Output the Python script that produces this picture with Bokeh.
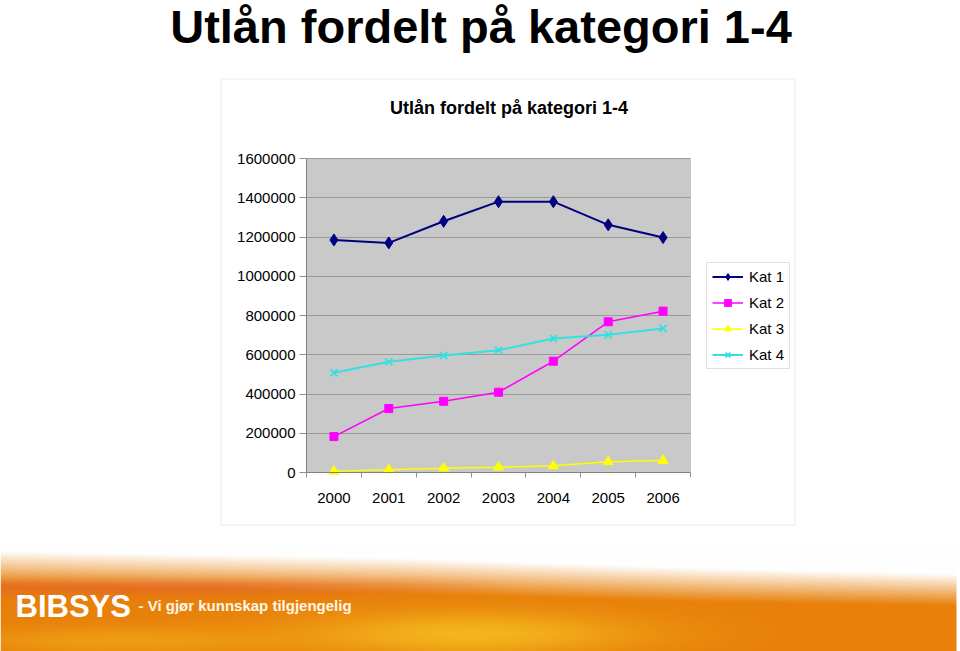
import numpy as np
from bokeh.plotting import figure
from bokeh.models import (Range1d, FixedTicker, NumeralTickFormatter, Legend, LegendItem,
                          LinearAxis, Grid, BoxAnnotation, Label)
from bokeh.core.properties import value
from bokeh.layouts import column
from bokeh.embed import file_html
from bokeh.resources import INLINE

# ---------------- data ----------------
years = ["2000", "2001", "2002", "2003", "2004", "2005", "2006"]
kat1 = [1185000, 1170000, 1280000, 1380000, 1380000, 1262000, 1197000]
kat2 = [183000, 326000, 363000, 409000, 567000, 768000, 822000]
kat3 = [6000, 14000, 22000, 27000, 34000, 55000, 61000]
kat4 = [508000, 564000, 596000, 623000, 683000, 702000, 734000]
series_names = ["Kat 1", "Kat 2", "Kat 3", "Kat 4"]
y_ticks = [0, 200000, 400000, 600000, 800000, 1000000, 1200000, 1400000, 1600000]
page_title = "Utlån fordelt på kategori 1-4"
chart_title = "Utlån fordelt på kategori 1-4"
tagline = "- Vi gjør kunnskap tilgjengelig"
logo = "BIBSYS"

FONT = "Liberation Sans"
BOX = "#BDBDBD"
xs = list(range(len(years)))

# ---------------- layout geometry (pixels) ----------------
W_MAIN, H_MAIN = 960, 545
PL, PR, PT, PB = 306, 690, 158, 472          # plot-area edges on the page
x_lo, x_hi = -0.5, len(years) - 0.5
y_lo, y_hi = y_ticks[0], y_ticks[-1]
ppx = (PR - PL) / (x_hi - x_lo)
ppy = (PB - PT) / (y_hi - y_lo)
x_range = Range1d(x_lo - PL / ppx, x_hi + (W_MAIN - PR) / ppx)
y_range = Range1d(y_lo - (H_MAIN - PB) / ppy, y_hi + PT / ppy)

p = figure(width=W_MAIN, height=H_MAIN, output_backend="svg", toolbar_location=None,
           x_range=x_range, y_range=y_range, title=None,
           x_axis_location=None, y_axis_location=None, min_border=0)
if "frame_align" in p.properties():
    p.frame_align = False
p.grid.visible = False
p.outline_line_color = None
p.background_fill_color = "white"
p.border_fill_color = "white"

# plot area
p.add_layout(BoxAnnotation(left=x_lo, right=x_hi, bottom=y_lo, top=y_hi,
                           fill_color="#C9C9C9", fill_alpha=1, line_color="#808080",
                           line_width=1, level="underlay"))
# horizontal gridlines
g = Grid(dimension=1, ticker=FixedTicker(ticks=y_ticks), grid_line_color="#9A9A9A",
         grid_line_width=1, level="underlay")
if "cross_bounds" in g.properties():
    g.cross_bounds = (x_lo, x_hi)
    g.bounds = (y_lo, y_hi)
    p.add_layout(g)
else:
    p.segment(x0=[x_lo] * len(y_ticks), x1=[x_hi] * len(y_ticks), y0=y_ticks, y1=y_ticks,
              line_color="#9A9A9A", line_width=1, level="underlay")

# outer chart box (page x 220..794, y 78..524)
p.add_layout(BoxAnnotation(left=220.5, right=794.5, top=78.5, bottom=524.5,
                           left_units="canvas", right_units="canvas",
                           top_units="canvas", bottom_units="canvas",
                           fill_alpha=0, line_color=BOX, line_width=1))

# axes fixed at the plot-area edges
ya = LinearAxis(fixed_location=x_lo, bounds=(y_lo, y_hi))
ya.ticker = FixedTicker(ticks=y_ticks)
ya.formatter = NumeralTickFormatter(format="0")
ya.axis_line_color = "#808080"
ya.major_tick_in = 0
ya.major_tick_out = 7
ya.major_tick_line_color = "#909090"
ya.minor_tick_line_color = None
ya.major_label_standoff = 4
ya.major_label_text_font = FONT
ya.major_label_text_font_size = "15px"
ya.major_label_text_color = "black"
p.add_layout(ya, "left")

xa = LinearAxis(fixed_location=y_lo, bounds=(x_lo, x_hi))
xa.ticker = FixedTicker(ticks=xs, minor_ticks=[i - 0.5 for i in range(len(years) + 1)])
xa.major_label_overrides = {i: y for i, y in enumerate(years)}
xa.axis_line_color = "#808080"
xa.major_tick_in = 0
xa.major_tick_out = 0
xa.minor_tick_in = 0
xa.minor_tick_out = 5
xa.minor_tick_line_color = "#909090"
xa.major_label_standoff = 15
xa.major_label_text_font = FONT
xa.major_label_text_font_size = "15px"
xa.major_label_text_color = "black"
p.add_layout(xa, "below")

# series
styles = [
    (kat1, "#000080", "diamond", 12, 2.0),
    (kat2, "#FF00FF", "square", 8, 1.5),
    (kat3, "#FFFF00", "triangle", 10, 1.5),
    (kat4, "#33E0E0", "x", 10, 2.0),
]
items = []
for name, (vals, col, mk, sz, lw) in zip(series_names, styles):
    ln = p.line(xs, vals, line_color=col, line_width=lw)
    if mk == "x":
        sc = p.scatter(xs, vals, marker=mk, size=sz, line_color=col, line_width=1.8)
    else:
        sc = p.scatter(xs, vals, marker=mk, size=sz, fill_color=col, line_color=col)
    items.append(LegendItem(label=name, renderers=[ln, sc]))

# legend: bottom-left corner at page (706, 369)
legend = Legend(items=items, location=(706, H_MAIN - 369))
legend.border_line_color = "#C0C0C0"
legend.background_fill_color = "white"
legend.background_fill_alpha = 1
legend.label_text_font = FONT
legend.label_text_font_size = "15px"
legend.label_text_color = "black"
legend.glyph_width = 31
legend.glyph_height = 17
legend.label_height = 17
legend.label_width = 35
legend.spacing = 9
legend.padding = 5
legend.margin = 0
legend.label_standoff = 6
p.add_layout(legend)

# titles (screen units: origin at bottom-left, y upward)
p.add_layout(Label(x=480.5, y=H_MAIN - 26, x_units="screen", y_units="screen", text=page_title,
                   text_font=FONT, text_font_style="bold", text_font_size="47px",
                   text_align="center", text_baseline="alphabetic", text_color="black"))
p.add_layout(Label(x=508.5, y=H_MAIN - 107, x_units="screen", y_units="screen", text=chart_title,
                   text_font=FONT, text_font_style="bold", text_font_size="18px",
                   text_align="center", text_baseline="alphabetic", text_color="black"))

# ---------------- banner (page y 545..651) ----------------
H, W = 106, 960
rr = np.arange(H, dtype=float)[:, None]
cc = np.arange(W, dtype=float)[None, :]
start = np.interp(cc, [0, 400, 700, 960], [5, 12, 22, 28])
end = np.interp(cc, [0, 400, 700, 960], [40, 48, 56, 60])
t = np.clip((rr - start) / (end - start), 0, 1)
white = np.array([255.0, 255.0, 255.0])
orange = np.array([232.0, 128.0, 10.0])
rgb = white[None, None, :] * (1 - t[..., None]) + orange[None, None, :] * t[..., None]
wr = np.exp(-((rr - 42) / 8.0) ** 2) * np.clip((520 - cc) / 300.0, 0, 1)
red = np.array([228.0, 100.0, 45.0])
rgb = rgb * (1 - 0.6 * wr[..., None]) + red * 0.6 * wr[..., None]
wy = np.exp(-(((cc - 470) / 170.0) ** 2 + ((rr - 88) / 22.0) ** 2))
yel = np.array([248.0, 200.0, 35.0])
rgb = rgb * (1 - 0.75 * wy[..., None]) + yel * 0.75 * wy[..., None]
wy2 = np.exp(-(((cc - 120) / 160.0) ** 2 + ((rr - 95) / 14.0) ** 2))
rgb = rgb * (1 - 0.4 * wy2[..., None]) + yel * 0.4 * wy2[..., None]
rgb[:, 956:, :] = 255
rgb = np.clip(rgb, 0, 255).astype(np.uint8)
img = np.empty((H, W), dtype=np.uint32)
view = img.view(dtype=np.uint8).reshape((H, W, 4))
view[..., 0] = rgb[..., 0]
view[..., 1] = rgb[..., 1]
view[..., 2] = rgb[..., 2]
view[..., 3] = 255

banner = figure(width=W, height=H, output_backend="svg", toolbar_location=None,
                x_range=Range1d(0, W), y_range=Range1d(H, 0), title=None,
                x_axis_location=None, y_axis_location=None, min_border=0)
if "frame_align" in banner.properties():
    banner.frame_align = False
banner.grid.visible = False
banner.outline_line_color = None
banner.background_fill_color = "white"
banner.border_fill_color = "white"
banner.image_rgba(image=[img], x=0, y=0, dw=W, dh=H)
banner.text(x=[15], y=[61], text=[logo], text_font=value(FONT), text_font_style="bold",
            text_font_size="31px", text_color="white", text_baseline="alphabetic")
banner.text(x=[138], y=[60], text=[tagline], text_font=value(FONT), text_font_style="bold",
            text_font_size="15px", text_color="#FFF6E6", text_baseline="alphabetic")

layout = column(p, banner, spacing=0)
open("out.html", "w").write(file_html(layout, INLINE))
